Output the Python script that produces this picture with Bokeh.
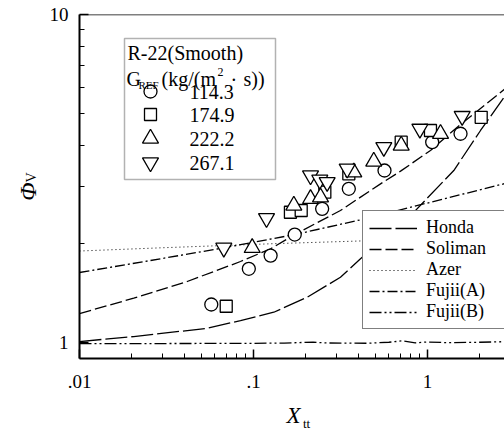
import math
from bokeh.plotting import figure
from bokeh.models import (Range1d, FixedTicker, CustomJSTickFormatter, Label, BoxAnnotation,
                          Legend, LegendItem, Span)
from bokeh.embed import file_html
from bokeh.resources import INLINE

# ---------------- data ----------------
g_labels = ["114.3", "174.9", "222.2", "267.1"]

g114_x = [0.0572, 0.094, 0.1254, 0.1726, 0.248, 0.353, 0.566, 1.064, 1.548]
g114_y = [1.306, 1.678, 1.841, 2.134, 2.556, 2.942, 3.345, 4.08, 4.33]

g175_x = [0.0697, 0.163, 0.188, 0.257, 0.353, 0.706, 1.04, 2.035]
g175_y = [1.29, 2.496, 2.526, 2.873, 3.268, 4.08, 4.43, 4.86]

g222_x = [0.0983, 0.1705, 0.2127, 0.2427, 0.377, 0.491, 0.706, 1.188]
g222_y = [1.944, 2.617, 2.742, 2.773, 3.305, 3.563, 3.987, 4.33]

g267_x = [0.0675, 0.1188, 0.2127, 0.2404, 0.265, 0.3455, 0.561, 0.904, 1.582]
g267_y = [1.944, 2.393, 3.229, 3.133, 3.082, 3.386, 3.94, 4.48, 4.90]

honda_x = [0.01, 0.0205, 0.0542, 0.0842, 0.1308, 0.2035, 0.316, 0.412, 0.817, 1.416, 2.017, 2.77]
honda_y = [1.007, 1.043, 1.105, 1.167, 1.237, 1.374, 1.581, 1.80, 2.468, 3.345, 4.43, 5.62]

soliman_x = [0.01, 0.0205, 0.0416, 0.0842, 0.1254, 0.1726, 0.316, 0.537, 0.70, 1.04, 1.482, 2.77]
soliman_y = [1.226, 1.365, 1.535, 1.766, 1.931, 2.134, 2.527, 3.046, 3.33, 3.85, 4.535, 5.92]

azer_x = [0.01, 0.0292, 0.1254, 0.412, 2.77]
azer_y = [1.901, 1.944, 2.0, 2.04, 2.134]

fujiiA_x = [0.01, 0.0292, 0.0675, 0.1726, 0.412, 0.5735, 2.77]
fujiiA_y = [1.635, 1.80, 1.944, 2.134, 2.366, 2.473, 3.05]

fujiiB_x = [0.01, 0.03, 0.08, 0.15, 0.22, 0.26, 0.32, 0.45, 0.6, 0.72, 0.85, 1.0, 1.3, 2.0, 2.77]
fujiiB_y = [0.992, 0.993, 0.994, 0.996, 1.003, 0.997, 0.996, 0.995, 1.002, 1.012, 0.998, 1.004, 0.999, 1.002, 1.006]

line_names = ["Honda", "Soliman", "Azer", "Fujii(A)", "Fujii(B)"]

x_ticks = [0.01, 0.1, 1]
x_minor = [0.02, 0.03, 0.04, 0.05, 0.06, 0.07, 0.08, 0.09,
           0.2, 0.3, 0.4, 0.5, 0.6, 0.7, 0.8, 0.9, 2]
y_ticks = [1, 10]
y_minor = [2, 3, 4, 5, 6, 7, 8, 9]

# ---------------- layout ----------------
W, H = 504, 433
FL, FT, FW, FH = 79, 14, 425, 344
XMIN, XMAX, YMIN, YMAX = 0.01, 2.77, 0.894, 10.0
FONT = "Liberation Serif"


def dx(px):
    return 10 ** (math.log10(XMIN) + (px - FL) / FW * (math.log10(XMAX) - math.log10(XMIN)))


def dy(py):
    return 10 ** (math.log10(YMIN) + (FT + FH - py) / FH * (math.log10(YMAX) - math.log10(YMIN)))


def sx(px):
    return px - FL


def sy(py):
    return FT + FH - py


p = figure(width=W, height=H, x_axis_type="log", y_axis_type="log",
           x_range=Range1d(XMIN, XMAX), y_range=Range1d(YMIN, YMAX),
           output_backend="svg", toolbar_location=None,
           min_border_left=FL, min_border_right=0, min_border_top=FT, min_border_bottom=H - FT - FH)
p.outline_line_color = None
p.background_fill_color = "white"
p.border_fill_color = "white"
p.xgrid.visible = False
p.ygrid.visible = False

fmt = CustomJSTickFormatter(code="""
  var s = String(tick);
  if (tick < 1) { s = s.replace(/^0/, ''); }
  return s;
""")
for ax, ticks, minor in ((p.xaxis[0], x_ticks, x_minor), (p.yaxis[0], y_ticks, y_minor)):
    ax.ticker = FixedTicker(ticks=ticks, minor_ticks=minor)
    ax.formatter = fmt
    ax.axis_line_width = 2
    ax.axis_line_color = "black"
    ax.major_tick_in = 9
    ax.major_tick_out = 0
    ax.minor_tick_in = 5
    ax.minor_tick_out = 0
    ax.major_tick_line_width = 1.5
    ax.minor_tick_line_width = 1
    ax.major_label_text_font = FONT
    ax.major_label_text_font_size = "19px"
    ax.major_label_text_color = "black"
p.xaxis[0].major_label_standoff = 16
p.yaxis[0].major_label_standoff = 11

# top border
p.add_layout(Span(location=YMAX, dimension="width", line_color="black", line_width=1.5))

# ---------------- curves ----------------
lw = 1.3
r_honda = p.line(honda_x, honda_y, line_color="black", line_width=lw, line_dash="22 4")
r_sol = p.line(soliman_x, soliman_y, line_color="black", line_width=lw, line_dash="12 4")
r_azer = p.line(azer_x, azer_y, line_color="black", line_width=1, line_dash="1 3")
r_fa = p.line(fujiiA_x, fujiiA_y, line_color="black", line_width=lw, line_dash="10 3 2 3")
r_fb = p.line(fujiiB_x, fujiiB_y, line_color="black", line_width=lw, line_dash="12 3 2 3 2 3")

# ---------------- data markers ----------------
mk = dict(fill_color="white", line_color="black", line_width=1.3)
p.scatter(g114_x, g114_y, marker="circle", size=13, **mk)
p.scatter(g175_x, g175_y, marker="square", size=12, **mk)
p.scatter(g222_x, g222_y, marker="triangle", size=16, **mk)
p.scatter(g267_x, g267_y, marker="inverted_triangle", size=16, **mk)

# ---------------- marker legend (upper left) ----------------
p.add_layout(BoxAnnotation(left=sx(124), right=sx(275), top=sy(38), bottom=sy(179),
                           left_units="screen", right_units="screen",
                           top_units="screen", bottom_units="screen", level="underlay",
                           fill_color="white", fill_alpha=1, line_color="black", line_width=1.5))


def lab(text, px, py, size, **kw):
    d = dict(x=sx(px), y=sy(py), x_units="screen", y_units="screen", text=text,
             text_font=FONT, text_font_size=f"{size}px", text_color="black",
             text_baseline="middle", text_align="left")
    d.update(kw)
    p.add_layout(Label(**d))


def side_lab(place, text, px, py, size, **kw):
    d = dict(x=dx(px), y=dy(py), x_units="data", y_units="data", text=text,
             text_font=FONT, text_font_size=f"{size}px", text_color="black",
             text_baseline="middle", text_align="center")
    d.update(kw)
    p.add_layout(Label(**d), place)


lab("R-22(Smooth)", 127, 52, 20)
lab("G", 126, 78, 20)
lab("REF", 138, 84, 11)
lab("(kg/(m", 161, 78, 20)
lab("2", 217, 71, 12)
lab("\u00b7", 230, 79, 20)
lab("s))", 243, 78, 20)

leg_rows = [91, 114, 138, 162]
leg_markers = [("circle", 13), ("square", 12), ("triangle", 16), ("inverted_triangle", 16)]
for (m, s), py, t in zip(leg_markers, leg_rows, g_labels):
    p.scatter([dx(150)], [dy(py)], marker=m, size=s, **mk)
    lab(t, 189, py, 20)

# ---------------- line legend ----------------
legend = Legend(items=[LegendItem(label=n, renderers=[r]) for n, r in
                       zip(line_names, [r_honda, r_sol, r_azer, r_fa, r_fb])],
                location=(sx(362), sy(329)), padding=6, spacing=0, margin=0,
                glyph_width=48, glyph_height=20, label_height=20, label_width=72,
                label_standoff=9, label_text_font=FONT, label_text_font_size="18px",
                label_text_color="black",
                border_line_color="black", border_line_width=1.5,
                background_fill_color="white", background_fill_alpha=1)
p.add_layout(legend)

# ---------------- axis titles ----------------
side_lab("left", "\u03a6", 27, 191, 24, text_font_style="italic", angle=math.pi / 2)
side_lab("left", "X", 293, 415, 23, text_font_style="italic")
side_lab("below", "V", 31, 177, 14, angle=math.pi / 2)
side_lab("below", "tt", 306, 423, 13)

open("out.html", "w").write(file_html(p, INLINE))
